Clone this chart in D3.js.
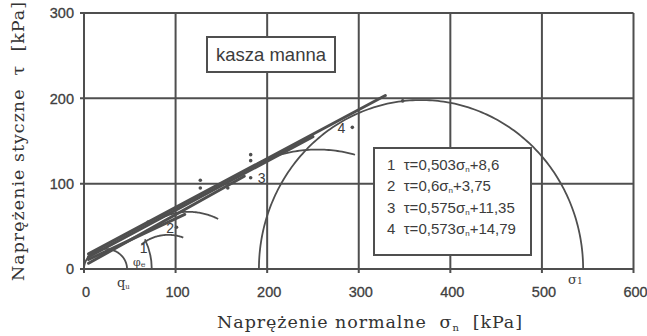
<!DOCTYPE html>
<html><head><meta charset="utf-8">
<script src="https://cdn.jsdelivr.net/npm/d3@7"></script>
<style>body{margin:0;background:#fff}svg{display:block}</style>
</head><body><svg id="c" width="647" height="336"></svg>
<script>
// ---- data ----
const xTicks = [0, 100, 200, 300, 400, 500, 600];
const yTicks = [0, 100, 200, 300];
const lineIds = ["1", "2", "3", "4"];
const slopes = [0.503, 0.6, 0.575, 0.573];
const intercepts = [8.6, 3.75, 11.35, 14.79];
const lineStart = [5, 5, 5, 5];
const lineEnd = [110, 175, 250, 329];
// Mohr circles (sigma centre, sigma radius, tau peak, drawn angle range in deg)
const circleCenter = [23.5, 92, 114, 255, 368];
const circleRadius = [23.5, 42, 67, 140, 177];
const circleTop = [23.5, 40, 67, 140, 198];
const arcFrom = [0, 67, 61, 73, 0];
const arcTo = [180, 134, 120, 118, 180];
// measured points
const pointSigma = [182, 182, 127, 127, 182, 293, 348, 101, 70, 157];
const pointTau = [134, 127, 104, 95, 107, 166, 197, 49, 55, 95];
// point labels
const labelText = ["1", "2", "3", "4"];
const labelSigma = [65, 94, 194, 281];
const labelTau = [25, 48, 107, 165];
const phiArcRadius = 74, phiArcAngle = 26;
const title = "kasza manna";

// ---- drawing ----
const svg = d3.select("#c");
const x = d3.scaleLinear([0, 600], [84, 633.5]);
const y = d3.scaleLinear([0, 300], [269, 13]);
const ink = "#4f4f4f";
const sans = "'Liberation Sans', Arial, sans-serif";
const serif = "'DejaVu Serif', serif";

// grid
const g = svg.append("g").attr("stroke", ink).attr("stroke-width", 2).attr("fill", "none");
g.selectAll(".vx").data(xTicks).join("line")
  .attr("x1", d => x(d)).attr("x2", d => x(d)).attr("y1", y(300)).attr("y2", y(0) + 4);
g.selectAll(".hy").data(yTicks).join("line")
  .attr("y1", d => y(d)).attr("y2", d => y(d)).attr("x1", x(0) - 4).attr("x2", x(600));

// tick labels
svg.append("g").selectAll("text").data(yTicks).join("text")
  .attr("x", 74).attr("y", d => y(d)).attr("dy", "0.36em")
  .attr("text-anchor", "end").attr("font-family", sans).attr("font-size", 14.5)
  .attr("fill", "#404040").attr("stroke", "#404040").attr("stroke-width", 0.3).text(d => d);
svg.append("g").selectAll("text").data(xTicks).join("text")
  .attr("x", d => x(d) + 2).attr("y", 297)
  .attr("text-anchor", "middle").attr("font-family", sans).attr("font-size", 14.5)
  .attr("fill", "#404040").attr("stroke", "#404040").attr("stroke-width", 0.3).text(d => d);

// circles
const circGen = (i) => {
  const pts = d3.range(arcFrom[i], arcTo[i] + 0.5, 1).map(a => {
    const t = a * Math.PI / 180;
    return [x(circleCenter[i] + circleRadius[i] * Math.cos(t)), y(circleTop[i] * Math.sin(t))];
  });
  return d3.line()(pts);
};
svg.append("g").selectAll("path").data(circleCenter).join("path")
  .attr("d", (d, i) => circGen(i)).attr("fill", "none").attr("stroke", ink).attr("stroke-width", 1.8);

// phi arc around origin
const pr = x(phiArcRadius) - x(0);
svg.append("path")
  .attr("d", d3.arc()({innerRadius: pr, outerRadius: pr, startAngle: Math.PI / 2, endAngle: Math.PI / 2 - phiArcAngle * Math.PI / 180}))
  .attr("transform", `translate(${x(0)},${y(0)})`)
  .attr("fill", "none").attr("stroke", ink).attr("stroke-width", 1.8);

// strength lines
svg.append("g").selectAll("line").data(lineIds).join("line")
  .attr("x1", (d, i) => x(lineStart[i])).attr("y1", (d, i) => y(slopes[i] * lineStart[i] + intercepts[i]))
  .attr("x2", (d, i) => x(lineEnd[i])).attr("y2", (d, i) => y(slopes[i] * lineEnd[i] + intercepts[i]))
  .attr("stroke", ink).attr("stroke-width", 3).attr("stroke-linecap", "round");

// points
svg.append("g").selectAll("circle").data(pointSigma).join("circle")
  .attr("cx", (d, i) => x(d)).attr("cy", (d, i) => y(pointTau[i])).attr("r", 1.8).attr("fill", ink);

// point labels
svg.append("g").selectAll("text").data(labelText).join("text")
  .attr("x", (d, i) => x(labelSigma[i])).attr("y", (d, i) => y(labelTau[i])).attr("dy", "0.36em")
  .attr("text-anchor", "middle").attr("font-family", sans).attr("font-size", 14).attr("fill", "#3c3c3c").text(d => d);

// phi, q, sigma1 annotations
const phi = svg.append("text").attr("x", 133).attr("y", 266).attr("font-family", serif).attr("font-size", 11).attr("fill", "#3c3c3c");
phi.append("tspan").text("φ");
phi.append("tspan").attr("font-size", 8).attr("dy", 1).text("e");
const q = svg.append("text").attr("x", 117).attr("y", 287).attr("font-family", serif).attr("font-size", 13).attr("fill", "#3c3c3c");
q.append("tspan").text("q");
q.append("tspan").attr("font-size", 7).attr("dy", 2).text("u");
const s1 = svg.append("text").attr("x", 568).attr("y", 284).attr("font-family", serif).attr("font-size", 13).attr("fill", "#3c3c3c");
s1.append("tspan").text("σ");
s1.append("tspan").attr("font-size", 9).text("1");

// title box
svg.append("rect").attr("x", 207).attr("y", 37).attr("width", 128).attr("height", 35)
  .attr("fill", "#fff").attr("stroke", ink).attr("stroke-width", 2);
svg.append("text").attr("x", 271).attr("y", 61).attr("text-anchor", "middle")
  .attr("font-family", sans).attr("font-size", 18.5).attr("fill", "#3c3c3c").text(title);

// legend box
svg.append("rect").attr("x", 374).attr("y", 148).attr("width", 157).attr("height", 107)
  .attr("fill", "#fff").attr("stroke", ink).attr("stroke-width", 2);
const fmt = v => String(v).replace(".", ",");
const leg = svg.append("g").selectAll("text").data(lineIds).join("text")
  .attr("x", 387).attr("y", (d, i) => 170 + i * 21.3)
  .attr("font-family", sans).attr("font-size", 15).attr("fill", "#3c3c3c").style("white-space", "pre");
leg.append("tspan").text(d => d + "  τ=");
leg.append("tspan").text((d, i) => fmt(slopes[i]) + "σ");
leg.append("tspan").attr("font-size", 8).attr("dy", 2).text("n");
leg.append("tspan").attr("dy", -2).text((d, i) => "+" + fmt(intercepts[i]));

// axis titles
const xt = svg.append("text").attr("x", 370).attr("y", 328).attr("text-anchor", "middle")
  .attr("font-family", serif).attr("font-size", 17.5).attr("letter-spacing", 0.9)
  .attr("fill", "#333").style("white-space", "pre");
xt.append("tspan").text("Naprężenie normalne  σ");
xt.append("tspan").attr("font-size", 10).attr("dy", 3).text("n");
xt.append("tspan").attr("dy", -3).text("  [kPa]");
svg.append("text").attr("transform", "translate(24,141) rotate(-90)").attr("text-anchor", "middle")
  .attr("font-family", serif).attr("font-size", 17.5).attr("letter-spacing", 1)
  .attr("fill", "#333").style("white-space", "pre")
  .text("Naprężenie styczne  τ  [kPa]");
</script></body></html>
